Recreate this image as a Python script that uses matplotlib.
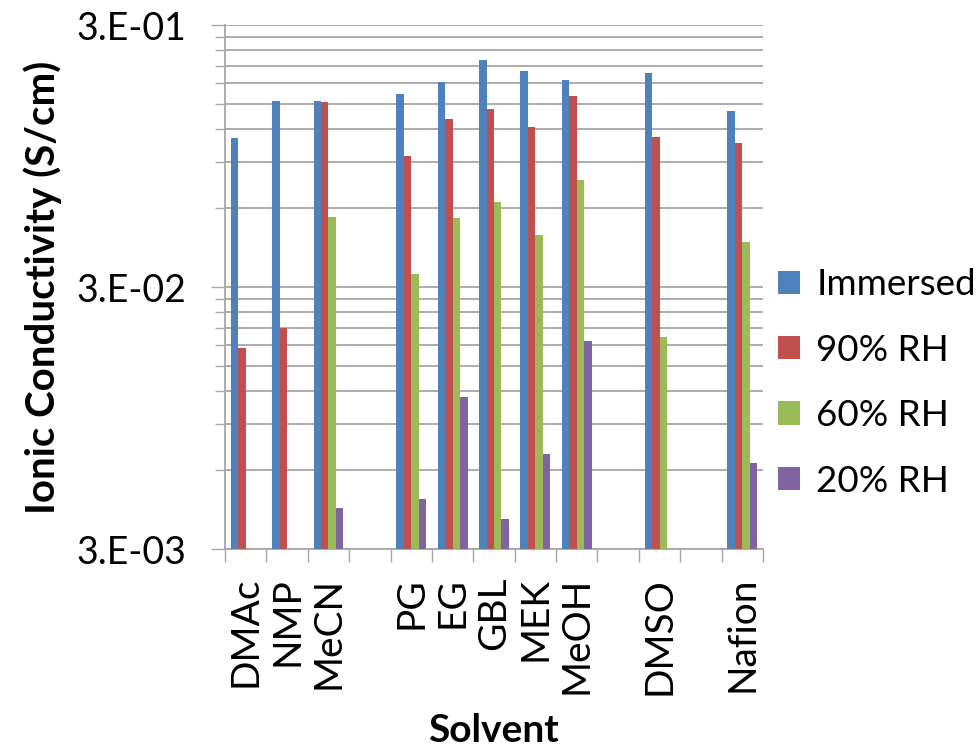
import matplotlib
matplotlib.use("Agg")
import matplotlib.pyplot as plt
import numpy as np
from matplotlib.ticker import FixedLocator, NullFormatter

plt.rcParams['font.family'] = ['Lato', 'DejaVu Sans']

# categories (blank names are the empty gaps in the original chart)
solvents = ["DMAc", "NMP", "MeCN", "", "PG", "EG", "GBL", "MEK", "MeOH", "", "DMSO", "", "Nafion"]
nan = np.nan
immersed = [0.111, 0.154, 0.154, nan, 0.164, 0.182, 0.220, 0.200, 0.185, nan, 0.197, nan, 0.141]
rh90 = [0.0175, 0.0209, 0.152, nan, 0.0947, 0.131, 0.144, 0.122, 0.161, nan, 0.112, nan, 0.106]
rh60 = [nan, nan, 0.0555, nan, 0.0337, 0.055, 0.0633, 0.0474, 0.0768, nan, 0.0193, nan, 0.0446]
rh20 = [nan, nan, 0.0043, nan, 0.00464, 0.0114, 0.0039, 0.00693, 0.0187, nan, nan, nan, 0.0064]

series = [immersed, rh90, rh60, rh20]
names = ["Immersed", "90% RH", "60% RH", "20% RH"]
colors = ["#4F81BD", "#C0504D", "#9BBB59", "#8064A2"]

ymin, ymax = 3e-3, 3e-1
grid_col = "#a6a6a6"

fig = plt.figure(figsize=(9.79, 7.47), dpi=100)
ax = fig.add_axes([0.2298, 0.265, 0.5496, 0.7015])

x = np.arange(len(solvents))
w = 0.18
for j, (vals, name, c) in enumerate(zip(series, names, colors)):
    v = np.array(vals, dtype=float)
    ok = ~np.isnan(v)
    ax.bar(x[ok] + (j - 1.5) * w, v[ok] - ymin, bottom=ymin, width=w,
           color=c, label=name, zorder=3)

ax.set_yscale("log")
ax.set_ylim(ymin, ymax)
ax.set_xlim(-0.5, len(solvents) - 0.5)

# y ticks like Excel: labels only at 3.E-0n, gridlines at every multiple
ax.yaxis.set_major_locator(FixedLocator([3e-3, 3e-2, 3e-1]))
ax.set_yticklabels(["3.E-03", "3.E-02", "3.E-01"])
minors = [3e-3 * k for k in range(2, 10)] + [3e-2 * k for k in range(2, 10)]
ax.yaxis.set_minor_locator(FixedLocator(minors))
ax.yaxis.set_minor_formatter(NullFormatter())
ax.grid(True, which="both", axis="y", color=grid_col, linewidth=1.3, zorder=0)
ax.tick_params(axis="y", which="major", length=10, width=1.0, color=grid_col,
               labelsize=27, pad=18)
ax.tick_params(axis="y", which="minor", length=7, width=1.0, color=grid_col)

ax.set_xticks(x)
ax.set_xticklabels(solvents, rotation=90, va="top", ha="center")
ax.set_xticks(np.arange(len(solvents) + 1) - 0.5, minor=True)
ax.tick_params(axis="x", which="major", length=0, labelsize=28, pad=20)
ax.tick_params(axis="x", which="minor", length=9, width=1.0, color=grid_col)

for s in ["top", "right"]:
    ax.spines[s].set_visible(False)
for s in ["left", "bottom"]:
    ax.spines[s].set_color(grid_col)
    ax.spines[s].set_linewidth(1.3)
ax.set_axisbelow(True)

ax.set_ylabel("Ionic Conductivity (S/cm)", fontsize=29, fontweight="bold", labelpad=10)
ax.set_xlabel("Solvent", fontsize=28, fontweight="bold", labelpad=13)

ax.legend(loc="center left", bbox_to_anchor=(1.0, 0.317), frameon=False,
          fontsize=26.5, handlelength=0.6, handleheight=0.6, handletextpad=0.45,
          labelspacing=0.88, borderaxespad=0.2, borderpad=0.2)

fig.savefig("out.png", dpi=100)
